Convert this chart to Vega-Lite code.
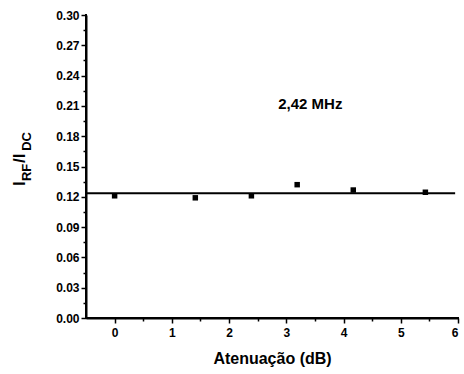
{
  "$schema": "https://vega.github.io/schema/vega-lite/v6.json",
  "width": 372,
  "height": 303,
  "autosize": {"type": "none"},
  "padding": {"left": 86, "top": 15, "right": 6, "bottom": 56},
  "background": "white",
  "config": {
    "view": {"stroke": null},
    "font": "Liberation Sans",
    "axis": {
      "grid": false,
      "tickColor": "black",
      "tickWidth": 1.5,
      "labelFont": "Liberation Sans",
      "labelFontWeight": "bold",
      "labelFontSize": 12,
      "labelColor": "black",
      "titleFont": "Liberation Sans",
      "titleFontWeight": "bold",
      "titleFontSize": 16,
      "titleColor": "black"
    }
  },
  "resolve": {"axis": {"x": "independent", "y": "independent"}},
  "layer": [
    {
      "data": {"values": [
        {"x": 0, "y": 0.121},
        {"x": 1.41, "y": 0.119},
        {"x": 2.39, "y": 0.121},
        {"x": 3.19, "y": 0.132},
        {"x": 4.17, "y": 0.1267},
        {"x": 5.43, "y": 0.1245}
      ]},
      "mark": {"type": "square", "filled": true, "color": "black", "size": 30, "opacity": 1},
      "encoding": {
        "x": {
          "field": "x", "type": "quantitative",
          "scale": {"domain": [-0.5, 6], "nice": false, "zero": false},
          "axis": {"orient": "bottom", "domain": true, "domainColor": "black", "domainWidth": 2, "values": [0, 1, 2, 3, 4, 5, 6], "title": "Atenuação (dB)", "tickSize": 5, "labelPadding": 4, "titlePadding": 12, "format": "d"}
        },
        "y": {
          "field": "y", "type": "quantitative",
          "scale": {"domain": [0, 0.3], "nice": false},
          "axis": {"orient": "left", "domain": true, "domainColor": "black", "domainWidth": 2, "values": [0, 0.03, 0.06, 0.09, 0.12, 0.15, 0.18, 0.21, 0.24, 0.27, 0.3], "format": ".2f", "title": null, "tickSize": 5, "labelPadding": 2}
        }
      }
    },
    {
      "data": {"values": [{"x1": -0.5, "x2": 5.95, "y": 0.1235}]},
      "mark": {"type": "rule", "color": "black", "strokeWidth": 1.8},
      "encoding": {
        "x": {"field": "x1", "type": "quantitative", "axis": {"orient": "bottom", "values": [0.5, 1.5, 2.5, 3.5, 4.5, 5.5], "labels": false, "domain": false, "tickSize": 3, "title": null}},
        "x2": {"field": "x2"},
        "y": {"field": "y", "type": "quantitative", "axis": {"orient": "left", "values": [0.015, 0.045, 0.075, 0.105, 0.135, 0.165, 0.195, 0.225, 0.255, 0.285], "labels": false, "domain": false, "tickSize": 3, "title": null}}
      }
    },
    {
      "data": {"values": [
        {"x1": -0.5, "x2": 6, "y1": 0, "y2": 0},
        {"x1": -0.5, "x2": -0.5, "y1": 0, "y2": 0.3}
      ]},
      "mark": {"type": "rule", "color": "black", "strokeWidth": 2, "strokeCap": "square"},
      "encoding": {
        "x": {"field": "x1", "type": "quantitative", "axis": null},
        "x2": {"field": "x2"},
        "y": {"field": "y1", "type": "quantitative", "axis": null},
        "y2": {"field": "y2"}
      }
    },
    {
      "data": {"values": [{"x": 3.42, "y": 0.212, "t": "2,42 MHz"}]},
      "mark": {"type": "text", "font": "Liberation Sans", "fontWeight": "bold", "fontSize": 15, "color": "black", "align": "center", "baseline": "middle"},
      "encoding": {
        "x": {"field": "x", "type": "quantitative", "axis": null},
        "y": {"field": "y", "type": "quantitative", "axis": null},
        "text": {"field": "t"}
      }
    },
    {
      "data": {"values": [
        {"x": -1.566, "y": 0.1307, "t": "I", "s": 17},
        {"x": -1.461, "y": 0.1356, "t": "RF", "s": 13},
        {"x": -1.566, "y": 0.1535, "t": "/I", "s": 17},
        {"x": -1.461, "y": 0.1655, "t": "DC", "s": 13}
      ]},
      "mark": {"type": "text", "font": "Liberation Sans", "fontWeight": "bold", "color": "black", "align": "left", "baseline": "alphabetic", "angle": 270},
      "encoding": {
        "x": {"field": "x", "type": "quantitative", "axis": null},
        "y": {"field": "y", "type": "quantitative", "axis": null},
        "text": {"field": "t"},
        "size": {"field": "s", "type": "quantitative", "scale": null, "legend": null}
      }
    }
  ]
}
